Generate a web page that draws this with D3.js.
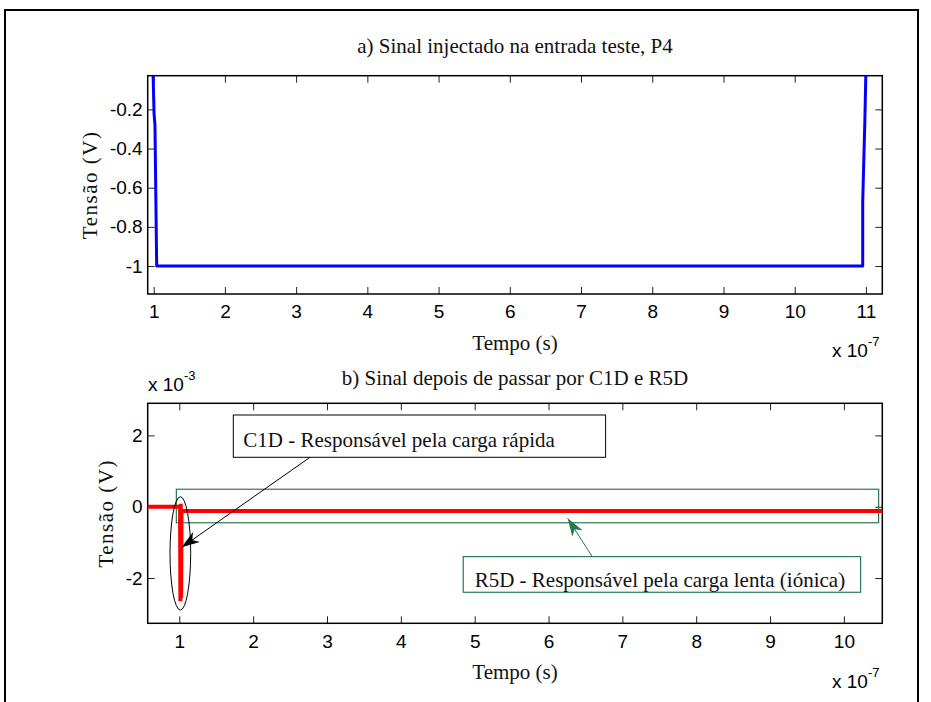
<!DOCTYPE html>
<html>
<head>
<meta charset="utf-8">
<script src="https://cdn.jsdelivr.net/npm/d3@7/dist/d3.min.js"></script>
<style>
  html, body { margin: 0; padding: 0; background: #fff; }
  svg { display: block; }
  .tick text { font-family: "Liberation Sans", Arial, sans-serif; font-size: 19px; fill: #000; }
  .tick line { stroke: #222; stroke-width: 1; }
  .serif { font-family: "Liberation Serif", "Times New Roman", serif; fill: #111; }
  .sans { font-family: "Liberation Sans", Arial, sans-serif; fill: #000; }
</style>
</head>
<body>
<script>
// Signal injected at the test input (time in units of 1e-7 s, voltage in V)
const timeA = [0.92, 0.99, 1.005, 1.018, 1.042, 10.955, 10.955, 10.985, 11.0, 11.23];
const voltA = [0, 0, -0.22, -0.28, -1, -1, -0.67, -0.26, 0, 0];

// Signal after C1D and R5D (time in units of 1e-7 s, voltage in units of 1e-3 V)
const timeB = [0.572, 1.01, 1.015, 1.02, 1.025, 1.03, 10.52];
const voltB = [0, 0, -2.65, 0.08, -2.55, -0.12, -0.12];

// Tick values
const xTicksA = [1, 2, 3, 4, 5, 6, 7, 8, 9, 10, 11];
const yTicksA = [-1, -0.8, -0.6, -0.4, -0.2];
const xTicksB = [1, 2, 3, 4, 5, 6, 7, 8, 9, 10];
const yTicksB = [-2, 0, 2];

// Text
const titleA = "a) Sinal injectado na entrada teste, P4";
const titleB = "b) Sinal depois de passar por C1D e R5D";
const xLabel = "Tempo (s)";
const yLabel = "Tensão (V)";
const noteFast = "C1D - Responsável pela carga rápida";
const noteSlow = "R5D - Responsável pela carga lenta (iónica)";

const W = 931, H = 702;
const svg = d3.select("body").append("svg").attr("width", W).attr("height", H);
svg.append("rect").attr("width", W).attr("height", H).attr("fill", "#fff");

// page frame
svg.append("path")
  .attr("d", `M5,${H + 2} V10 H918 V${H + 2}`)
  .attr("fill", "none").attr("stroke", "#000").attr("stroke-width", 2);

const fmt = d => String(Math.round(d * 10) / 10);

function panel(opts) {
  const { left, right, top, bottom, xDom, yDom, xt, yt, id } = opts;
  const x = d3.scaleLinear().domain(xDom).range([left, right]);
  const y = d3.scaleLinear().domain(yDom).range([bottom, top]);
  const g = svg.append("g");

  g.append("clipPath").attr("id", id)
    .append("rect").attr("x", left).attr("y", top)
    .attr("width", right - left).attr("height", bottom - top);

  const ax = (axis, tr) => {
    const a = g.append("g").attr("transform", tr).call(axis);
    a.select(".domain").remove();
    return a;
  };
  ax(d3.axisBottom(x).tickValues(xt).tickSizeInner(-7).tickSizeOuter(0).tickPadding(11).tickFormat(d => String(d)),
     `translate(0,${bottom})`);
  ax(d3.axisTop(x).tickValues(xt).tickSizeInner(-7).tickSizeOuter(0).tickFormat(""),
     `translate(0,${top})`);
  ax(d3.axisLeft(y).tickValues(yt).tickSizeInner(-7).tickSizeOuter(0).tickPadding(5).tickFormat(fmt),
     `translate(${left},0)`);
  ax(d3.axisRight(y).tickValues(yt).tickSizeInner(-7).tickSizeOuter(0).tickFormat(""),
     `translate(${right},0)`);

  g.append("rect").attr("x", left).attr("y", top)
    .attr("width", right - left).attr("height", bottom - top)
    .attr("fill", "none").attr("stroke", "#000").attr("stroke-width", 1.5);

  // labels
  g.append("text").attr("class", "serif")
    .attr("x", (left + right) / 2).attr("y", bottom + 56)
    .attr("text-anchor", "middle").attr("font-size", 21).text(xLabel);
  g.append("text").attr("class", "serif")
    .attr("transform", `translate(${opts.yLabelX},${(top + bottom) / 2}) rotate(-90)`)
    .attr("text-anchor", "middle").attr("font-size", 21)
    .attr("letter-spacing", 1.5).text(yLabel);
  g.append("text").attr("class", "serif")
    .attr("x", (left + right) / 2).attr("y", top - opts.titleGap)
    .attr("text-anchor", "middle").attr("font-size", 21).text(opts.title);

  return { x, y, g };
}

function multiplier(g, xPos, yPos, exp) {
  const t = g.append("text").attr("class", "sans").attr("x", xPos).attr("y", yPos).attr("font-size", 19);
  t.append("tspan").text("x 10");
  t.append("tspan").attr("font-size", 13).attr("dy", -11).text(exp);
}

// ---- Panel a ----
const A = panel({
  id: "clipA", left: 147.7, right: 882.3, top: 75.7, bottom: 294,
  xDom: [0.916, 11.23], yDom: [-1.143, -0.028],
  xt: xTicksA, yt: yTicksA, yLabelX: 97, titleGap: 23, title: titleA
});
A.g.append("path")
  .datum(d3.zip(timeA, voltA))
  .attr("clip-path", "url(#clipA)")
  .attr("fill", "none").attr("stroke", "#0000ff").attr("stroke-width", 3)
  .attr("stroke-linejoin", "round")
  .attr("d", d3.line().x(d => A.x(d[0])).y(d => A.y(d[1])));
multiplier(A.g, 832, 357, "-7");

// ---- Panel b ----
const B = panel({
  id: "clipB", left: 147.7, right: 882.3, top: 403.3, bottom: 623.3,
  xDom: [0.572, 10.52], yDom: [-3.27, 2.9],
  xt: xTicksB, yt: yTicksB, yLabelX: 113, titleGap: 18, title: titleB
});
multiplier(B.g, 832, 688, "-7");
multiplier(B.g, 148, 391, "-3");

// annotations (positioned in data units)
const green = "#2b7a4e";
const defs = svg.append("defs");
function arrowHead(id, color) {
  defs.append("marker").attr("id", id)
    .attr("viewBox", "0 0 18 12").attr("refX", 18).attr("refY", 6)
    .attr("markerWidth", 18).attr("markerHeight", 12)
    .attr("markerUnits", "userSpaceOnUse").attr("orient", "auto")
    .append("path").attr("d", "M0,0 L18,6 L0,12 L5,6 Z").attr("fill", color);
}
arrowHead("headBlack", "#000");
arrowHead("headGreen", green);

// slow-charge region
B.g.append("rect")
  .attr("x", B.x(0.96)).attr("y", B.y(0.49))
  .attr("width", B.x(10.47) - B.x(0.96)).attr("height", B.y(-0.45) - B.y(0.49))
  .attr("fill", "none").attr("stroke", green).attr("stroke-width", 1.2);

// signal
B.g.append("path")
  .datum(d3.zip(timeB, voltB))
  .attr("fill", "none").attr("stroke", "#ff0000").attr("stroke-width", 4)
  .attr("d", d3.line().x(d => B.x(d[0])).y(d => B.y(d[1])));

// fast-charge region
B.g.append("ellipse")
  .attr("cx", B.x(1.014)).attr("cy", B.y(-1.31))
  .attr("rx", B.x(1.154) - B.x(1.014)).attr("ry", B.y(-2.9) - B.y(-1.31))
  .attr("fill", "none").attr("stroke", "#000").attr("stroke-width", 1);

// C1D note
B.g.append("rect")
  .attr("x", B.x(1.731)).attr("y", B.y(2.572))
  .attr("width", B.x(6.773) - B.x(1.731)).attr("height", B.y(1.386) - B.y(2.572))
  .attr("fill", "#fff").attr("stroke", "#000").attr("stroke-width", 1);
B.g.append("text").attr("class", "serif")
  .attr("x", B.x(1.866)).attr("y", B.y(1.675)).attr("font-size", 21).text(noteFast);
B.g.append("line")
  .attr("x1", B.x(2.77)).attr("y1", B.y(1.386))
  .attr("x2", B.x(1.032)).attr("y2", B.y(-1.14))
  .attr("stroke", "#000").attr("stroke-width", 1)
  .attr("marker-end", "url(#headBlack)");

// R5D note
B.g.append("rect")
  .attr("x", B.x(4.845)).attr("y", B.y(-1.40))
  .attr("width", B.x(10.226) - B.x(4.845)).attr("height", B.y(-2.40) - B.y(-1.40))
  .attr("fill", "#fff").attr("stroke", green).attr("stroke-width", 1.2);
B.g.append("text").attr("class", "serif")
  .attr("x", B.x(5.0)).attr("y", B.y(-2.244)).attr("font-size", 21).text(noteSlow);
B.g.append("line")
  .attr("x1", B.x(6.592)).attr("y1", B.y(-1.40))
  .attr("x2", B.x(6.259)).attr("y2", B.y(-0.325))
  .attr("stroke", green).attr("stroke-width", 1)
  .attr("marker-end", "url(#headGreen)");
</script>
</body>
</html>
